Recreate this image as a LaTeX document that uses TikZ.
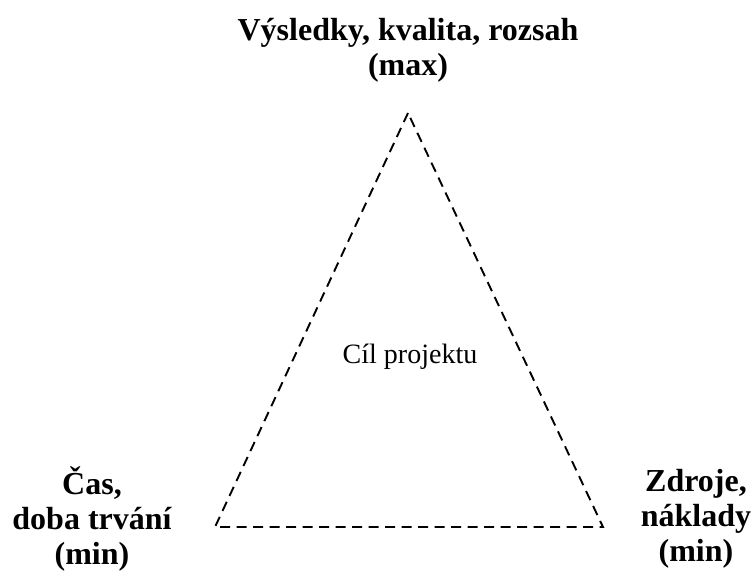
\documentclass[tikz,border=0pt]{standalone}
\usepackage{fontspec}
\setmainfont{Liberation Serif}
\begin{document}
\begin{tikzpicture}[x=1pt,y=-1pt,
  corner/.style={font=\fontsize{32}{35}\selectfont\bfseries, align=center, inner sep=0pt},
  edge/.style={line width=1.9pt, dash pattern=on 10pt off 6.5pt}]
\useasboundingbox (0,0) rectangle (752,573);
% vertices of the project triangle
\coordinate (top) at (408,113);
\coordinate (left) at (215,527);
\coordinate (right) at (603,527);
\draw[edge] (top) -- (left) -- (right) -- cycle;
% labels at the corners
\node[corner] (goal) at (408,50) {Výsledky, kvalita, rozsah\\(max)};
\node[corner] (time) at (92,519) {Čas,\\doba trvání\\(min)};
\node[corner] (cost) at (696,519) {Zdroje,\\náklady\\(min)};
% text in the middle
\node[font=\fontsize{28}{32}\selectfont, inner sep=0pt] (aim) at (410,357) {Cíl projektu};
\end{tikzpicture}
\end{document}
